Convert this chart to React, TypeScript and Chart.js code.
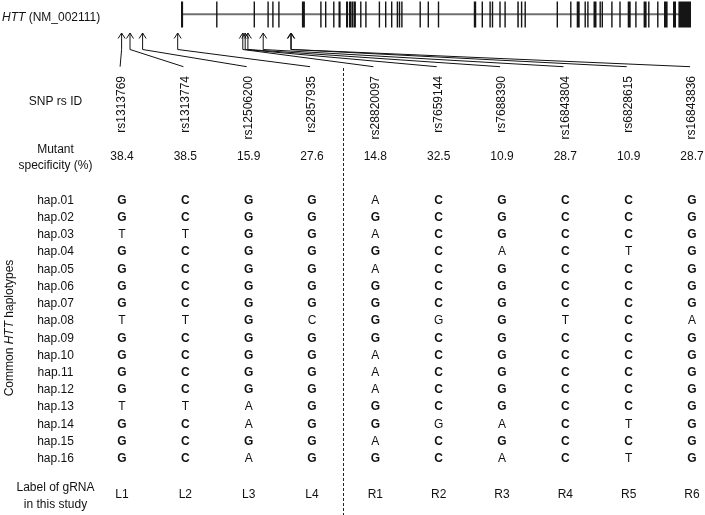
import React, { useEffect, useRef } from 'react';
import { Chart, registerables } from 'chart.js';

Chart.register(...registerables);

// ---------- data ----------
const geneName = 'HTT';
const transcriptId = '(NM_002111)';
const geneLengthKb = 170;
// exon [start, end] in kb from transcription start
const exonsKb: [number, number][] = [
  [0, 0.7], [11.7, 12.1], [24.2, 24.6], [28.8, 29.2], [30.4, 30.8], [32.4, 32.8],
  [40.3, 41.3], [46.4, 46.8], [48.0, 48.4], [50.7, 51.1], [52.5, 53.2], [55.0, 55.7],
  [56.0, 56.7], [56.8, 57.5], [57.6, 58.3], [59.7, 60.1], [61.4, 61.8], [65.9, 66.3],
  [68.0, 68.4], [70.0, 70.4], [71.9, 72.3], [72.6, 73.0], [73.4, 73.8], [79.5, 79.9],
  [82.2, 82.6], [85.6, 86.0], [97.6, 98.4], [100.2, 100.6], [102.8, 103.2], [103.6, 104.0],
  [106.1, 106.5], [107.8, 108.2], [112.1, 112.6], [113.3, 113.7], [114.5, 114.9], [125.2, 125.6],
  [129.7, 130.1], [131.9, 132.9], [134.5, 134.9], [135.4, 135.8], [137.5, 138.5], [139.5, 139.9],
  [140.2, 140.6], [143.4, 143.8], [146.1, 146.5], [148.9, 149.9], [151.4, 151.8], [154.2, 155.2],
  [155.7, 156.1], [158.7, 159.1], [161.0, 162.2], [164.0, 165.0], [165.8, 170.0],
];
// SNP positions in kb relative to transcription start
const snpPosKb = [-19.8, -17.0, -12.8, -1.1, 20.6, 21.4, 22.3, 27.4, 36.6, 36.75];
const rsIds = [
  'rs1313769', 'rs1313774', 'rs12506200', 'rs2857935', 'rs28820097',
  'rs7659144', 'rs7688390', 'rs16843804', 'rs6828615', 'rs16843836',
];
const specificity = [38.4, 38.5, 15.9, 27.6, 14.8, 32.5, 10.9, 28.7, 10.9, 28.7];
const gRnaLabels = ['L1', 'L2', 'L3', 'L4', 'R1', 'R2', 'R3', 'R4', 'R5', 'R6'];
const boldAlleles = ['G', 'C', 'G', 'G', 'G', 'C', 'G', 'C', 'C', 'G'];
const haplotypes = [
  'hap.01', 'hap.02', 'hap.03', 'hap.04', 'hap.05', 'hap.06', 'hap.07', 'hap.08',
  'hap.09', 'hap.10', 'hap.11', 'hap.12', 'hap.13', 'hap.14', 'hap.15', 'hap.16',
];
const alleles = [
  'GCGGACGCCG', 'GCGGGCGCCG', 'TTGGACGCCG', 'GCGGGCACTG',
  'GCGGACGCCG', 'GCGGGCGCCG', 'GCGGGCGCCG', 'TTGCGGGTCA',
  'GCGGGCGCCG', 'GCGGACGCCG', 'GCGGACGCCG', 'GCGGACGCCG',
  'TTAGGCGCCG', 'GCAGGGACTG', 'GCGGACGCCG', 'GCAGGCACTG',
];

// ---------- layout (scale units) ----------
const ROW_PX = 17.22;
const COL_PX = 63.33;
const FIRST_ROW_PX = 200.5;
const FIRST_COL_PX = 122;
const W = 705;
const H = 515;
const GENE_START_PX = 181;
const GENE_PX_PER_KB = 3;

const LABEL_X = -1.05;
const VERT_LABEL_X = -1.7685;
const TITLE_X = -1.8948;
const DIVIDER_X = 3.5;

const TITLE_Y = -9.598;
const GENE_Y = -9.813;
const EXON_TOP = -10.556;
const EXON_BOT = -9.046;
const ARROW_TIP_Y = -8.727;
const ARROW_BASE_Y = -7.769;
const LINK_END_Y = -6.77;
const RS_TOP_Y = -6.23;
const SNP_LABEL_Y = -4.72;
const MUT_LINE1_Y = -1.933;
const MUT_LINE2_Y = -1.003;
const SPEC_Y = -1.526;
const GRNA_LINE1_Y = 17.696;
const GRNA_LINE2_Y = 18.683;
const GRNA_Y = 18.102;
const DASH_TOP_Y = -6.695;
const VERT_LABEL_Y = 8.404;

const FONT = '"Liberation Sans", Arial, Helvetica, sans-serif';
const INK = '#111111';

function drawRuns(ctx: CanvasRenderingContext2D, runs: { t: string; f: string }[], x: number, y: number, align: 'left' | 'center') {
  let total = 0;
  const widths = runs.map((r) => {
    ctx.font = r.f;
    const w = ctx.measureText(r.t).width;
    total += w;
    return w;
  });
  let cx = align === 'center' ? x - total / 2 : x;
  ctx.textAlign = 'left';
  runs.forEach((r, i) => {
    ctx.font = r.f;
    ctx.fillText(r.t, cx, y);
    cx += widths[i];
  });
}

const tablePlugin = {
  id: 'httTable',
  afterDatasetsDraw(chart: any) {
    const ctx: CanvasRenderingContext2D = chart.ctx;
    const xs = chart.scales.x;
    const ys = chart.scales.y;
    const xg = chart.scales.xg;
    const X = (v: number) => xs.getPixelForValue(v);
    const Y = (v: number) => ys.getPixelForValue(v);
    const G = (v: number) => xg.getPixelForValue(v);
    const normal = `12px ${FONT}`;
    const bold = `bold 12px ${FONT}`;
    const italic = `italic 12px ${FONT}`;

    ctx.save();
    ctx.fillStyle = INK;
    ctx.strokeStyle = INK;
    ctx.textBaseline = 'middle';

    // gene title
    drawRuns(ctx, [{ t: geneName, f: italic }, { t: ' ' + transcriptId, f: normal }], X(TITLE_X), Y(TITLE_Y), 'left');

    // gene backbone
    ctx.strokeStyle = '#707070';
    ctx.lineWidth = 2;
    ctx.beginPath();
    ctx.moveTo(G(0), Y(GENE_Y));
    ctx.lineTo(G(geneLengthKb), Y(GENE_Y));
    ctx.stroke();

    // exons
    ctx.fillStyle = '#151515';
    const et = Y(EXON_TOP);
    const eb = Y(EXON_BOT);
    exonsKb.forEach(([s, e]) => {
      const x0 = G(s);
      const w = Math.max(G(e) - x0, 1.4);
      ctx.fillRect(x0, et, w, eb - et);
    });

    // SNP arrows and links
    ctx.strokeStyle = INK;
    ctx.fillStyle = INK;
    ctx.lineWidth = 1;
    snpPosKb.forEach((p, i) => {
      const ax = G(p);
      const tip = Y(ARROW_TIP_Y);
      const base = Y(ARROW_BASE_Y);
      ctx.beginPath();
      ctx.moveTo(ax, tip);
      ctx.lineTo(ax, base);
      ctx.lineTo(X(i - 0.03), Y(LINK_END_Y));
      ctx.stroke();
      ctx.beginPath();
      ctx.moveTo(ax - 3.5, tip + 5.5);
      ctx.lineTo(ax, tip);
      ctx.lineTo(ax + 3.5, tip + 5.5);
      ctx.stroke();
    });

    // row header labels
    ctx.font = normal;
    ctx.textAlign = 'center';
    ctx.fillText('SNP rs ID', X(LABEL_X), Y(SNP_LABEL_Y));
    ctx.fillText('Mutant', X(LABEL_X), Y(MUT_LINE1_Y));
    ctx.fillText('specificity (%)', X(LABEL_X), Y(MUT_LINE2_Y));
    ctx.fillText('Label of gRNA', X(LABEL_X), Y(GRNA_LINE1_Y));
    ctx.fillText('in this study', X(LABEL_X), Y(GRNA_LINE2_Y));

    // rs IDs (rotated)
    rsIds.forEach((rs, i) => {
      ctx.save();
      ctx.translate(X(i), Y(RS_TOP_Y));
      ctx.rotate(-Math.PI / 2);
      ctx.font = normal;
      ctx.textAlign = 'right';
      ctx.textBaseline = 'middle';
      ctx.fillText(rs, 0, 0);
      ctx.restore();
    });

    // specificity values and gRNA labels
    ctx.font = normal;
    ctx.textAlign = 'center';
    specificity.forEach((v, i) => ctx.fillText(v.toFixed(1), X(i), Y(SPEC_Y)));
    gRnaLabels.forEach((l, i) => ctx.fillText(l, X(i), Y(GRNA_Y)));

    // haplotype names
    haplotypes.forEach((h, r) => ctx.fillText(h, X(LABEL_X), Y(r + 1)));

    // allele cells from dataset elements
    const meta = chart.getDatasetMeta(0);
    const data = chart.data.datasets[0].data;
    meta.data.forEach((el: any, k: number) => {
      const d = data[k];
      ctx.font = d.bold ? bold : normal;
      ctx.textAlign = 'center';
      ctx.fillText(d.base, el.x, el.y);
    });

    // vertical axis title
    ctx.save();
    ctx.translate(X(VERT_LABEL_X), Y(VERT_LABEL_Y));
    ctx.rotate(-Math.PI / 2);
    ctx.textBaseline = 'middle';
    drawRuns(ctx, [
      { t: 'Common ', f: normal },
      { t: geneName, f: italic },
      { t: ' haplotypes', f: normal },
    ], 0, 0, 'center');
    ctx.restore();

    // dashed divider
    ctx.strokeStyle = '#222';
    ctx.lineWidth = 1;
    ctx.setLineDash([3, 2]);
    ctx.beginPath();
    const dx = Math.round(X(DIVIDER_X)) - 0.5;
    ctx.moveTo(dx, Y(DASH_TOP_Y));
    ctx.lineTo(dx, Y(ys.max));
    ctx.stroke();
    ctx.setLineDash([]);

    ctx.restore();
  },
};

export default function App() {
  const ref = useRef<HTMLCanvasElement | null>(null);

  useEffect(() => {
    if (!ref.current) return;
    const cells = haplotypes.flatMap((_, r) =>
      alleles[r].split('').map((b, c) => ({ x: c, y: r + 1, base: b, bold: b === boldAlleles[c] }))
    );
    const chart = new Chart(ref.current, {
      type: 'scatter',
      data: {
        datasets: [
          {
            data: cells as any,
            pointRadius: 0,
            pointHoverRadius: 0,
            xAxisID: 'x',
            yAxisID: 'y',
          },
        ],
      },
      options: {
        animation: false,
        responsive: false,
        devicePixelRatio: 1,
        events: [],
        layout: { padding: 0 },
        plugins: { legend: { display: false }, tooltip: { enabled: false }, title: { display: false } },
        scales: {
          x: {
            type: 'linear',
            display: false,
            min: -FIRST_COL_PX / COL_PX,
            max: (W - FIRST_COL_PX) / COL_PX,
          },
          xg: {
            type: 'linear',
            display: false,
            min: -GENE_START_PX / GENE_PX_PER_KB,
            max: (W - GENE_START_PX) / GENE_PX_PER_KB,
          },
          y: {
            type: 'linear',
            display: false,
            reverse: true,
            min: 1 - FIRST_ROW_PX / ROW_PX,
            max: 1 + (H - FIRST_ROW_PX) / ROW_PX,
          },
        },
      },
      plugins: [tablePlugin],
    });
    return () => chart.destroy();
  }, []);

  return (
    <div style={{ position: 'fixed', left: 0, top: 0, width: W, height: H, background: '#fff' }}>
      <canvas ref={ref} width={W} height={H} style={{ width: W, height: H, display: 'block' }} />
    </div>
  );
}
